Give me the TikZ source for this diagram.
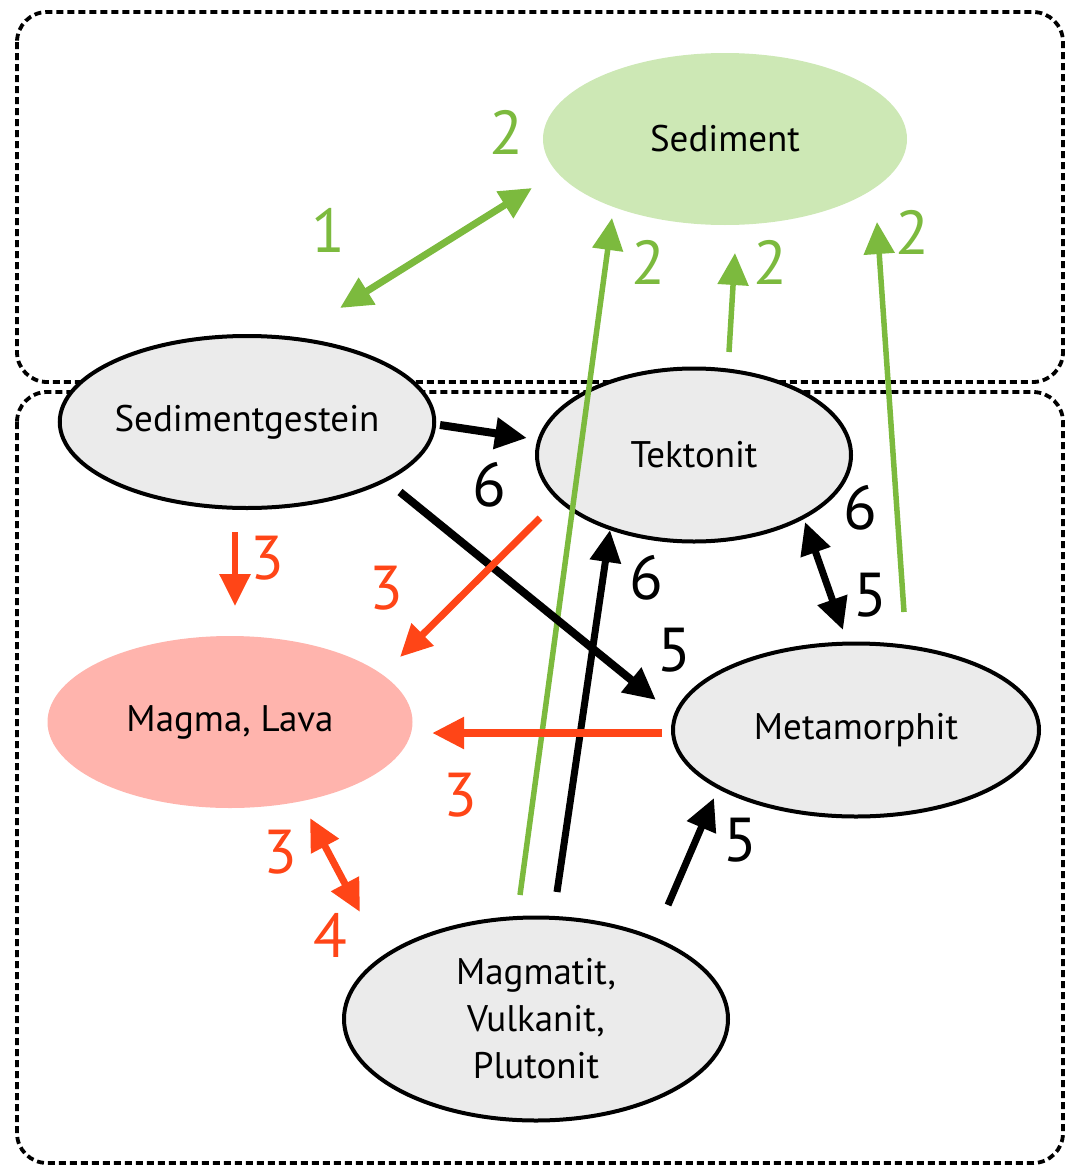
\documentclass[tikz,border=0pt]{standalone}
\usepackage{fontspec}
\setmainfont{PT Sans}
\usetikzlibrary{arrows.meta,shapes.geometric}
\definecolor{gfill}{HTML}{CDE8B5}
\definecolor{gline}{HTML}{7CBA3E}
\definecolor{rfill}{HTML}{FFB4AD}
\definecolor{rline}{HTML}{FF4517}
\definecolor{nfill}{HTML}{EBEBEB}
\tikzset{
  txt/.style={font=\fontsize{37}{44}\selectfont},
  rock/.style={ellipse,draw=black,line width=4pt,fill=nfill,inner sep=0pt,txt,align=center},
  box/.style={draw=black,line width=3.8pt,dash pattern=on 7pt off 4pt,rounded corners=30pt},
  tipA/.style={-{Triangle[length=32pt,width=30pt]}},
  tipB/.style={{Triangle[length=32pt,width=30pt]}-{Triangle[length=32pt,width=30pt]}},
  blk/.style={draw=black,line width=8pt},
  grn/.style={draw=gline,line width=7pt},
  grnthin/.style={draw=gline,line width=5.5pt},
  red/.style={draw=rline,line width=7pt},
  num/.style={font=\fontsize{62}{70}\selectfont,inner sep=0pt},
}
\begin{document}
\begin{tikzpicture}[x=1pt,y=-1pt]
\useasboundingbox (0,0) rectangle (1068,1167);
\draw[box] (17,12) rectangle (1063,382);
\draw[box] (17,392) rectangle (1063,1163);

\node[ellipse,fill=gfill,minimum width=364pt,minimum height=172pt,txt] (sed) at (725,139) {Sediment};
\node[rock,minimum width=366pt,minimum height=172pt] (sg) at (247,422) {Sedimentgestein};
\node[rock,minimum width=314pt,minimum height=173pt] (tek) at (694,455) {Tektonit};
\node[ellipse,fill=rfill,minimum width=365pt,minimum height=172pt,txt] (mag) at (230,722) {Magma, Lava};
\node[rock,minimum width=366pt,minimum height=173pt] (met) at (856,730) {Metamorphit};
\node[rock,minimum width=384pt,minimum height=203pt,font=\fontsize{37}{47}\selectfont] (mgt) at (536,1019) {Magmatit,\\Vulkanit,\\Plutonit};

% coordinates
\coordinate (a1s) at (340,308); \coordinate (a1e) at (532,188);
\coordinate (a2s) at (520,895); \coordinate (a2e) at (612,218);
\coordinate (a3s) at (729,352); \coordinate (a3e) at (735,253);
\coordinate (a4s) at (904,612); \coordinate (a4e) at (877,222);
\coordinate (b1s) at (440,425); \coordinate (b1e) at (527,438);
\coordinate (b2s) at (400,492); \coordinate (b2e) at (656,700);
\coordinate (r1s) at (540,518); \coordinate (r1e) at (400,657);
\coordinate (r2s) at (235,532); \coordinate (r2e) at (235,606);
\coordinate (r3s) at (662,733); \coordinate (r3e) at (432,733);
\coordinate (b3s) at (557,892); \coordinate (b3e) at (610,530);
\coordinate (b4s) at (805,522); \coordinate (b4e) at (843,630);
\coordinate (b5s) at (668,905); \coordinate (b5e) at (714,798);
\coordinate (r4s) at (310,818); \coordinate (r4e) at (360,912);

% green
\draw[grn,tipB] (a1s) -- (a1e);
\draw[grnthin,tipA] (a2s) -- (a2e);
\draw[grnthin,tipA] (a3s) -- (a3e);
\draw[grnthin,tipA] (a4s) -- (a4e);
% black
\draw[blk,tipA] (b1s) -- (b1e);
\draw[blk,tipA] (b2s) -- (b2e);
\draw[blk,tipA,line width=7pt] (b3s) -- (b3e);
\draw[blk,tipB,line width=7pt] (b4s) -- (b4e);
\draw[blk,tipA,line width=7pt] (b5s) -- (b5e);
% red
\draw[red,tipA] (r1s) -- (r1e);
\draw[red,tipA,line width=6pt] (r2s) -- (r2e);
\draw[red,tipA,line width=8pt] (r3s) -- (r3e);
\draw[red,tipB] (r4s) -- (r4e);

% labels
\node[num,text=gline] (l1) at (328,230) {1};
\node[num,text=gline] (l2a) at (506,132) {2};
\node[num,text=gline] (l2b) at (648,262) {2};
\node[num,text=gline] (l2c) at (770,262) {2};
\node[num,text=gline] (l2d) at (912,232) {2};
\node[num] (l6a) at (489,485) {6};
\node[num] (l5a) at (674,650) {5};
\node[num] (l6b) at (646,578) {6};
\node[num] (l6c) at (860,508) {6};
\node[num] (l5b) at (870,595) {5};
\node[num] (l5c) at (740,840) {5};
\node[num,text=rline] (l3a) at (267,558) {3};
\node[num,text=rline] (l3b) at (386,588) {3};
\node[num,text=rline] (l3c) at (460,795) {3};
\node[num,text=rline] (l3d) at (280,852) {3};
\node[num,text=rline] (l4) at (330,935) {4};
\end{tikzpicture}
\end{document}
